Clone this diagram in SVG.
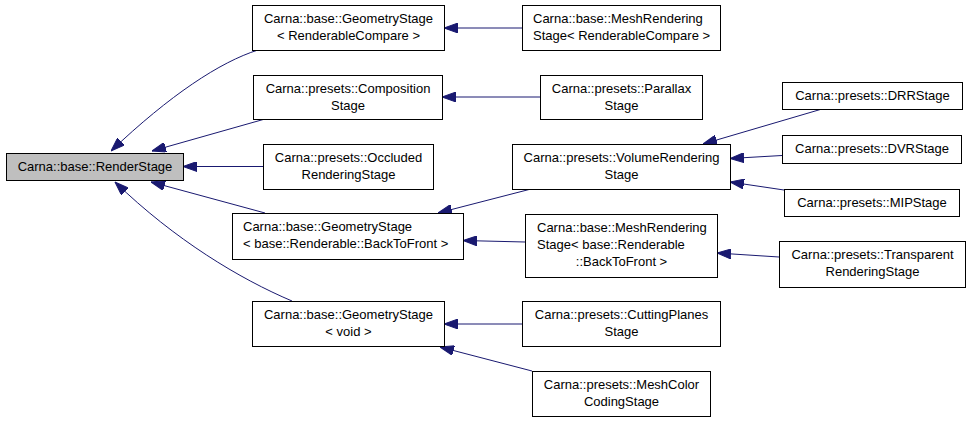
<svg xmlns="http://www.w3.org/2000/svg" width="971" height="421" viewBox="0 0 971 421">
<style>
  .node rect { fill: #ffffff; stroke: #000000; stroke-width: 1; }
  .node.root rect { fill: #bfbfbf; }
  .node text { font-family: "Liberation Sans", Arial, sans-serif; font-size: 13px; fill: #000000; text-anchor: middle; }
  .node text.l { text-anchor: start; }
  .edges path { fill: none; stroke: #191970; stroke-width: 1; marker-end: url(#arrow); }
</style>
<defs>
  <marker id="arrow" viewBox="0 0 14 10" refX="14" refY="5" markerWidth="14" markerHeight="10" markerUnits="userSpaceOnUse" orient="auto">
    <path d="M0,0 L14,5 L0,10 z" fill="#191970" stroke="#191970" stroke-width="1"/>
  </marker>
</defs>
<rect x="0" y="0" width="971" height="421" fill="#ffffff"/>
<g class="edges" id="edges">
  <path d="M258,50 C220,62 170,95 111,151"/>
  <path d="M265,119 L152,151"/>
  <path d="M263,166.5 L183,166.5"/>
  <path d="M265,213 L151,182"/>
  <path d="M292,301 C240,279 175,240 115,182"/>
  <path d="M522,28 L444,28"/>
  <path d="M540,97 L442,97"/>
  <path d="M531,189 L438,213"/>
  <path d="M525,242 L463,240.5"/>
  <path d="M522,324 L444,324"/>
  <path d="M532,371 L440,347"/>
  <path d="M822,109 L703,144"/>
  <path d="M782,155.5 L730,158.5"/>
  <path d="M784,190 L730,182"/>
  <path d="M779,257 L717,253"/>
</g>
<g class="node root" id="n_RenderStage">
  <rect x="6.5" y="153.5" width="177" height="27"/>
  <text x="95" y="170.5">Carna::base::RenderStage</text>
</g>
<g class="node" id="n_GeomRC">
  <rect x="252.5" y="5.5" width="192" height="45"/>
  <text x="348.5" y="23">Carna::base::GeometryStage</text>
  <text x="348.5" y="40">&lt; RenderableCompare &gt;</text>
</g>
<g class="node" id="n_Composition">
  <rect x="253.5" y="75.5" width="189" height="44"/>
  <text x="348" y="92.5">Carna::presets::Composition</text>
  <text x="348" y="109.5">Stage</text>
</g>
<g class="node" id="n_Occluded">
  <rect x="263.5" y="144.5" width="170" height="45"/>
  <text x="348.5" y="162">Carna::presets::Occluded</text>
  <text x="348.5" y="179">RenderingStage</text>
</g>
<g class="node" id="n_MeshRC">
  <rect x="522.5" y="5.5" width="198" height="45"/>
  <text class="l" x="533" y="23">Carna::base::MeshRendering</text>
  <text class="l" x="533" y="40">Stage&lt; RenderableCompare &gt;</text>
</g>
<g class="node" id="n_Parallax">
  <rect x="540.5" y="75.5" width="162" height="44"/>
  <text x="621.5" y="92.5">Carna::presets::Parallax</text>
  <text x="621.5" y="109.5">Stage</text>
</g>
<g class="node" id="n_DRR">
  <rect x="782.5" y="82.5" width="180" height="27"/>
  <text x="872.5" y="99.5">Carna::presets::DRRStage</text>
</g>
<g class="node" id="n_DVR">
  <rect x="782.5" y="135.5" width="179" height="28"/>
  <text x="872" y="153">Carna::presets::DVRStage</text>
</g>
<g class="node" id="n_VolRend">
  <rect x="512.5" y="144.5" width="218" height="45"/>
  <text x="621.5" y="162">Carna::presets::VolumeRendering</text>
  <text x="621.5" y="179">Stage</text>
</g>
<g class="node" id="n_MIP">
  <rect x="784.5" y="189.5" width="175" height="27"/>
  <text x="872" y="206.5">Carna::presets::MIPStage</text>
</g>
<g class="node" id="n_GeomBTF">
  <rect x="232.5" y="213.5" width="231" height="46"/>
  <text class="l" x="243" y="231">Carna::base::GeometryStage</text>
  <text class="l" x="243" y="248">&lt; base::Renderable::BackToFront &gt;</text>
</g>
<g class="node" id="n_MeshBTF">
  <rect x="525.5" y="214.5" width="192" height="63"/>
  <text class="l" x="537" y="231.5">Carna::base::MeshRendering</text>
  <text class="l" x="537" y="248.5">Stage&lt; base::Renderable</text>
  <text x="621.5" y="265.5">::BackToFront &gt;</text>
</g>
<g class="node" id="n_Transparent">
  <rect x="779.5" y="241.5" width="186" height="46"/>
  <text x="872.5" y="259">Carna::presets::Transparent</text>
  <text x="872.5" y="276">RenderingStage</text>
</g>
<g class="node" id="n_GeomVoid">
  <rect x="252.5" y="301.5" width="192" height="45"/>
  <text x="348.5" y="319">Carna::base::GeometryStage</text>
  <text x="348.5" y="336">&lt; void &gt;</text>
</g>
<g class="node" id="n_Cutting">
  <rect x="522.5" y="301.5" width="198" height="45"/>
  <text x="621.5" y="319">Carna::presets::CuttingPlanes</text>
  <text x="621.5" y="336">Stage</text>
</g>
<g class="node" id="n_MeshColor">
  <rect x="532.5" y="371.5" width="178" height="45"/>
  <text x="621.5" y="389">Carna::presets::MeshColor</text>
  <text x="621.5" y="406">CodingStage</text>
</g>
</svg>
